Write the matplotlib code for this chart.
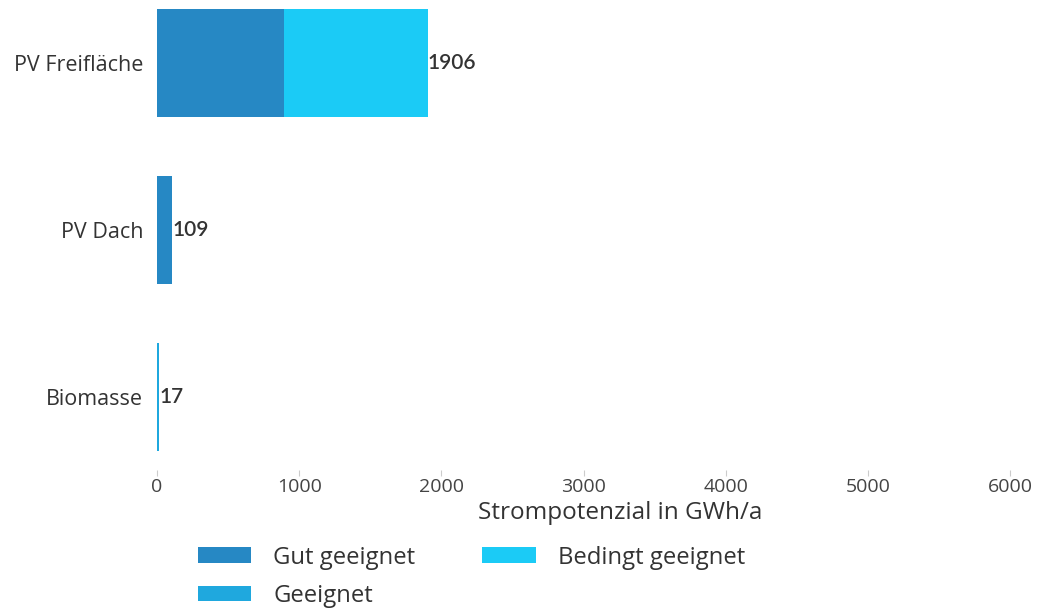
import matplotlib.pyplot as plt
import numpy as np

plt.rcParams['font.family'] = ['Open Sans', 'DejaVu Sans']

categories = ['Biomasse', 'PV Dach', 'PV Freifläche']
gut = [0, 109, 890]
geeignet = [17, 0, 0]
bedingt = [0, 0, 1016]
totals = [17, 109, 1906]

c_gut = '#2688c4'
c_geeignet = '#1fa8de'
c_bedingt = '#1bcbf6'
txt = '#333333'

fig = plt.figure(figsize=(10.41, 6.09), dpi=100)
ax = fig.add_axes([157/1041, 1 - 470/609, (1010-157)/1041, 470/609])

y = np.arange(len(categories))
h = 0.65
b1 = ax.barh(y, gut, height=h, color=c_gut, label='Gut geeignet')
left = np.array(gut)
b2 = ax.barh(y, geeignet, height=h, left=left, color=c_geeignet, label='Geeignet')
left = left + np.array(geeignet)
b3 = ax.barh(y, bedingt, height=h, left=left, color=c_bedingt, label='Bedingt geeignet')

for yi, t in zip(y, totals):
    ax.text(t, yi, str(t), va='center', ha='left', fontsize=15,
            fontweight='semibold', color=txt, family=['Lato', 'DejaVu Sans'])

ax.set_xlim(0, 6000)
ax.set_ylim(-0.44, 2.38)
ax.set_yticks(y)
ax.set_yticklabels(categories, fontsize=15.5, color=txt)
ax.set_xticks(range(0, 6001, 1000))
ax.tick_params(axis='x', labelsize=14, labelcolor='#444444', color='#cccccc',
               length=4, pad=2)
ax.tick_params(axis='y', length=0, pad=10)
for s in ax.spines.values():
    s.set_visible(False)

ax.set_xlabel('Strompotenzial in GWh/a', fontsize=17.5, color=txt)
ax.xaxis.set_label_coords(0.543, -0.065)

fig.legend(handles=[b1, b2, b3], loc='upper left', bbox_to_anchor=(176/1041, 1 - 524/609),
           ncol=2, frameon=False, fontsize=17.2, handlelength=2.25, handleheight=0.6,
           columnspacing=2.8, labelspacing=0.62, handletextpad=0.92,
           labelcolor=txt)

fig.savefig('out.png', dpi=100)
